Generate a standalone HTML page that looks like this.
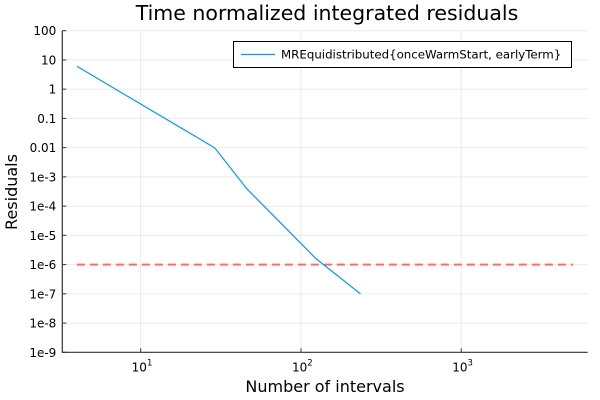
<!DOCTYPE html>
<html><head><meta charset="utf-8"><style>
body{margin:0;background:#fff;}
svg{display:block;font-family:"DejaVu Sans","Liberation Sans",sans-serif;}
</style></head><body>
<svg id="chart" width="600" height="400" viewBox="0 0 600 400">
<text x="327" y="20" font-size="20.5" text-anchor="middle" fill="#000">Time normalized integrated residuals</text>
<text x="325" y="392" font-size="16" text-anchor="middle" fill="#000">Number of intervals</text>
<text transform="translate(17,192) rotate(-90)" font-size="16" text-anchor="middle" fill="#000">Residuals</text>
<g id="grid"></g><g id="axes"></g><g id="marks"></g>
<g>
<rect x="233.5" y="41.5" width="338" height="26" fill="#fff" stroke="#000" stroke-width="1"/>
<line x1="241" y1="54.5" x2="275" y2="54.5" stroke="#009af9" stroke-width="1.2"/>
<text x="281" y="58.5" font-size="11.8" fill="#000">MREquidistributed{onceWarmStart, earlyTerm}</text>
</g>
</svg>
<script>
const xs=[4,8,29,46,124,235];
const ys=[6.1,0.64,0.0098,3.9e-4,1.6e-6,1e-7];
const threshX=[4,5000];
const threshY=[1e-6,1e-6];
const yTickLabels=["100","10","1","0.1","0.01","1e-3","1e-4","1e-5","1e-6","1e-7","1e-8","1e-9"];
const xTickExps=[1,2,3];
const L=62.3,R=587.7,T=30.7,B=352.3;
const xmin=0.511,xmax=3.789,ymin=-9,ymax=2;
const X=v=>L+(Math.log10(v)-xmin)/(xmax-xmin)*(R-L);
const Y=v=>B-(Math.log10(v)-ymin)/(ymax-ymin)*(B-T);
const NS="http://www.w3.org/2000/svg";
function mk(t,a,p){const e=document.createElementNS(NS,t);for(const k in a)e.setAttribute(k,a[k]);p.appendChild(e);return e;}
const grid=document.getElementById('grid'),axes=document.getElementById('axes'),marks=document.getElementById('marks');
yTickLabels.forEach((lab,i)=>{
  const v=Math.pow(10,2-i);const y=Y(v);
  const g=mk('line',{x1:L,x2:R,y1:y,y2:y,stroke:'#000','stroke-opacity':0.08,'stroke-width':1},grid);
  
  
  const tk=mk('line',{x1:L,x2:L+4,y1:y,y2:y,stroke:'#333','stroke-width':1},axes);
  
  
  const t=mk('text',{x:L-6,y:y+4.5,'font-size':12,'text-anchor':'end',fill:'#000'},axes);
  t.textContent=lab;
  
  
});
xTickExps.forEach(ex=>{
  const x=X(Math.pow(10,ex));
  const g=mk('line',{x1:x,x2:x,y1:T,y2:B,stroke:'#000','stroke-opacity':0.08,'stroke-width':1},grid);
  
  
  const tk=mk('line',{x1:x,x2:x,y1:B,y2:B-4,stroke:'#333','stroke-width':1},axes);
  
  
  const t=mk('text',{x:x-9,y:B+19,'font-size':12,fill:'#000'},axes);
  t.textContent='10';
  
  
  const s=mk('tspan',{dy:-6,'font-size':8.5},t);s.textContent=String(ex);
});
const ax=mk('path',{d:`M${L},${T} L${L},${B} L${R},${B}`,fill:'none',stroke:'#333','stroke-width':1.2},axes);


const th=mk('line',{x1:X(threshX[0]),x2:X(threshX[1]),y1:Y(threshY[0]),y2:Y(threshY[1]),stroke:'#ff6b6b','stroke-width':2,'stroke-dasharray':'8 5'},marks);


const pl=mk('polyline',{points:xs.map((x,i)=>X(x)+','+Y(ys[i])).join(' '),fill:'none',stroke:'#009af9','stroke-width':1.2},marks);


</script>
</body></html>
